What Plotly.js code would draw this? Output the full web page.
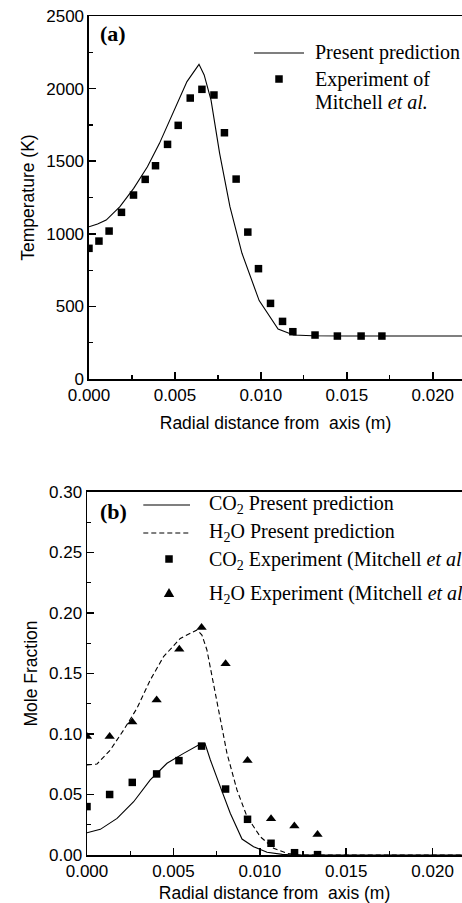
<!DOCTYPE html>
<html>
<head>
<meta charset="utf-8">
<script src="https://cdn.plot.ly/plotly-3.0.1.min.js"></script>
<style>html,body{margin:0;padding:0;background:#fff;}#chart{width:462px;height:903px;}</style>
</head>
<body>
<div id="chart"></div>
<script>
// ---- (a) Temperature ----
const tempPredX = [0, 0.0005, 0.0010, 0.0018, 0.0026, 0.0034, 0.0041, 0.0049, 0.0057, 0.0064, 0.0067, 0.0071, 0.0076, 0.0082, 0.0089, 0.0099, 0.0110, 0.0119, 0.0130, 0.0150, 0.0200, 0.0220];
const tempPredY = [1049, 1068, 1095, 1187, 1313, 1462, 1623, 1830, 2048, 2167, 2094, 1921, 1554, 1187, 866, 540, 344, 303, 298, 296, 296, 296];
const tempExpX = [0, 0.00058, 0.00117, 0.00189, 0.00259, 0.00327, 0.00387, 0.00457, 0.00519, 0.00589, 0.00657, 0.00727, 0.00788, 0.00856, 0.00924, 0.00986, 0.01056, 0.01126, 0.01186, 0.01315, 0.01445, 0.01583, 0.01704];
const tempExpY = [900, 950, 1019, 1148, 1267, 1375, 1469, 1616, 1747, 1935, 1995, 1956, 1696, 1377, 1012, 760, 521, 397, 326, 303, 296, 296, 296];

// ---- (b) Mole fraction ----
const co2PredX = [0, 0.00077, 0.00174, 0.0027, 0.00366, 0.00463, 0.00559, 0.00656, 0.00683, 0.00714, 0.00771, 0.00829, 0.00897, 0.00964, 0.01042, 0.0113, 0.0120, 0.0160, 0.0220];
const co2PredY = [0.0184, 0.0212, 0.0303, 0.044, 0.062, 0.0758, 0.084, 0.0917, 0.092, 0.0785, 0.0565, 0.0345, 0.0132, 0.0069, 0.0022, 0.0005, 0, 0, 0];
const h2oPredX = [0, 0.00058, 0.00135, 0.00212, 0.00289, 0.00366, 0.00443, 0.0054, 0.00637, 0.00665, 0.00694, 0.00752, 0.0081, 0.00868, 0.00926, 0.01003, 0.0108, 0.01157, 0.0123, 0.0160, 0.0220];
const h2oPredY = [0.0744, 0.0752, 0.0868, 0.1033, 0.1212, 0.1446, 0.1639, 0.179, 0.186, 0.1818, 0.1694, 0.1254, 0.084, 0.0537, 0.0317, 0.0151, 0.0055, 0.0014, 0, 0, 0];
const co2ExpX = [0, 0.00131, 0.00262, 0.00403, 0.00532, 0.00663, 0.00802, 0.00929, 0.01065, 0.01201, 0.01334];
const co2ExpY = [0.040, 0.050, 0.060, 0.067, 0.078, 0.090, 0.0545, 0.0295, 0.0097, 0.0019, 0.0003];
const h2oExpX = [0, 0.00131, 0.00262, 0.00403, 0.00534, 0.00663, 0.00802, 0.00929, 0.01065, 0.0120, 0.01334];
const h2oExpY = [0.098, 0.098, 0.110, 0.128, 0.170, 0.188, 0.158, 0.078, 0.030, 0.024, 0.017];

// ---- text ----
const labelA = '<b>(a)</b>';
const labelB = '<b>(b)</b>';
const legendA = ['Present prediction', 'Experiment of', 'Mitchell <i>et al.</i>'];
const legendB = ['CO<sub>2</sub> Present prediction', 'H<sub>2</sub>O Present prediction',
                 'CO<sub>2</sub> Experiment (Mitchell <i>et al.</i>)', 'H<sub>2</sub>O Experiment (Mitchell <i>et al.</i>)'];
const xTitle = 'Radial distance from  axis (m)';
const yTitleA = 'Temperature (K)';
const yTitleB = 'Mole Fraction';

const serif = 'Liberation Serif, Times New Roman, serif';
const sans = 'Liberation Sans, Arial, sans-serif';

const traces = [
  {x: tempPredX, y: tempPredY, xaxis: 'x', yaxis: 'y', mode: 'lines', line: {color: '#000', width: 1.1}},
  {x: tempExpX, y: tempExpY, xaxis: 'x', yaxis: 'y', mode: 'markers', marker: {symbol: 'square', size: 7.5, color: '#000'}},
  {x: co2PredX, y: co2PredY, xaxis: 'x2', yaxis: 'y2', mode: 'lines', line: {color: '#000', width: 1.1}},
  {x: h2oPredX, y: h2oPredY, xaxis: 'x2', yaxis: 'y2', mode: 'lines', line: {color: '#000', width: 1.1, dash: '5px,3px'}},
  {x: co2ExpX, y: co2ExpY, xaxis: 'x2', yaxis: 'y2', mode: 'markers', marker: {symbol: 'square', size: 7.5, color: '#000'}},
  {x: h2oExpX, y: h2oExpY, xaxis: 'x2', yaxis: 'y2', mode: 'markers', marker: {symbol: 'triangle-up', size: 9, color: '#000'}}
];

function xAxis(domain, anchor, standoff) {
  return {
    domain: domain, anchor: anchor, range: [0, 0.0217],
    showline: true, linewidth: 1.5, linecolor: '#000', mirror: true,
    ticks: 'inside', ticklen: 7, tickwidth: 1.5, tickcolor: '#000',
    dtick: 0.005, tick0: 0, tickformat: '.3f',
    minor: {ticks: 'inside', ticklen: 4, tickwidth: 1.2, tickcolor: '#000', dtick: 0.0025, showgrid: false},
    showgrid: false, zeroline: false,
    tickfont: {family: sans, size: 17, color: '#000'},
    title: {text: xTitle, font: {family: sans, size: 17.5, color: '#000'}, standoff: standoff}
  };
}
function yAxis(domain, anchor, range, dtick, minorDtick, fmt, title) {
  return {
    domain: domain, anchor: anchor, range: range,
    showline: true, linewidth: 1.5, linecolor: '#000', mirror: false,
    ticks: 'inside', ticklen: 7, tickwidth: 1.5, tickcolor: '#000',
    dtick: dtick, tick0: 0, tickformat: fmt,
    minor: {ticks: 'inside', ticklen: 4, tickwidth: 1.2, tickcolor: '#000', dtick: minorDtick, showgrid: false},
    showgrid: false, zeroline: false,
    tickfont: {family: sans, size: 17, color: '#000'},
    title: {text: title, font: {family: sans, size: 17.5, color: '#000'}, standoff: 7}
  };
}

const annFont = {family: serif, size: 20, color: '#000'};
function ann(text, x, y, size) {
  return {text: text, xref: 'paper', yref: 'paper', x: x, y: y, xanchor: 'left', yanchor: 'middle',
          showarrow: false, font: Object.assign({}, annFont, size ? {size: size} : {})};
}

const annotations = [
  ann(labelA, 0.028, 0.9797, 22),
  ann(legendA[0], 0.603, 0.9559),
  ann(legendA[1], 0.603, 0.9249),
  ann(legendA[2], 0.603, 0.8975),
  ann(labelB, 0.030, 0.4090, 22),
  ann(legendB[0], 0.321, 0.4172),
  ann(legendB[1], 0.321, 0.3838),
  ann(legendB[2], 0.321, 0.3516),
  ann(legendB[3], 0.321, 0.3099)
];

const shapes = [
  {type: 'line', xref: 'paper', yref: 'paper', x0: 0.4453, x1: 0.5787, y0: 0.9559, y1: 0.9559, line: {color: '#000', width: 1.1}},
  {type: 'rect', xref: 'paper', yref: 'paper', xsizemode: 'pixel', ysizemode: 'pixel', xanchor: 0.512, yanchor: 0.9249,
   x0: -3.75, x1: 3.75, y0: -3.75, y1: 3.75, fillcolor: '#000', line: {width: 0}},
  {type: 'line', xref: 'paper', yref: 'paper', x0: 0.1501, x1: 0.2747, y0: 0.4172, y1: 0.4172, line: {color: '#000', width: 1.1}},
  {type: 'line', xref: 'paper', yref: 'paper', x0: 0.1501, x1: 0.2747, y0: 0.3838, y1: 0.3838, line: {color: '#000', width: 1.1, dash: '5px,3px'}},
  {type: 'rect', xref: 'paper', yref: 'paper', xsizemode: 'pixel', ysizemode: 'pixel', xanchor: 0.2187, yanchor: 0.3528,
   x0: -3.75, x1: 3.75, y0: -3.75, y1: 3.75, fillcolor: '#000', line: {width: 0}},
  {type: 'path', xref: 'paper', yref: 'paper', xsizemode: 'pixel', ysizemode: 'pixel', xanchor: 0.2187, yanchor: 0.3111,
   path: 'M-5.2,-3 L5.2,-3 L0,6 Z', fillcolor: '#000', line: {width: 0}}
];

const layout = {
  width: 462, height: 903,
  margin: {l: 87, r: 0, t: 16, b: 48},
  paper_bgcolor: '#fff', plot_bgcolor: '#fff',
  showlegend: false,
  font: {family: sans, size: 16, color: '#000'},
  xaxis: xAxis([0.0053, 1], 'y', 13),
  yaxis: yAxis([0.5673, 1], 'x', [0, 2500], 500, 250, 'd', yTitleA),
  xaxis2: xAxis([0, 1], 'y2', 18),
  yaxis2: yAxis([0, 0.4327], 'x2', [0, 0.30], 0.05, 0.025, '.2f', yTitleB),
  annotations: annotations,
  shapes: shapes
};

Plotly.newPlot('chart', traces, layout, {displayModeBar: false, staticPlot: true});
</script>
</body>
</html>
